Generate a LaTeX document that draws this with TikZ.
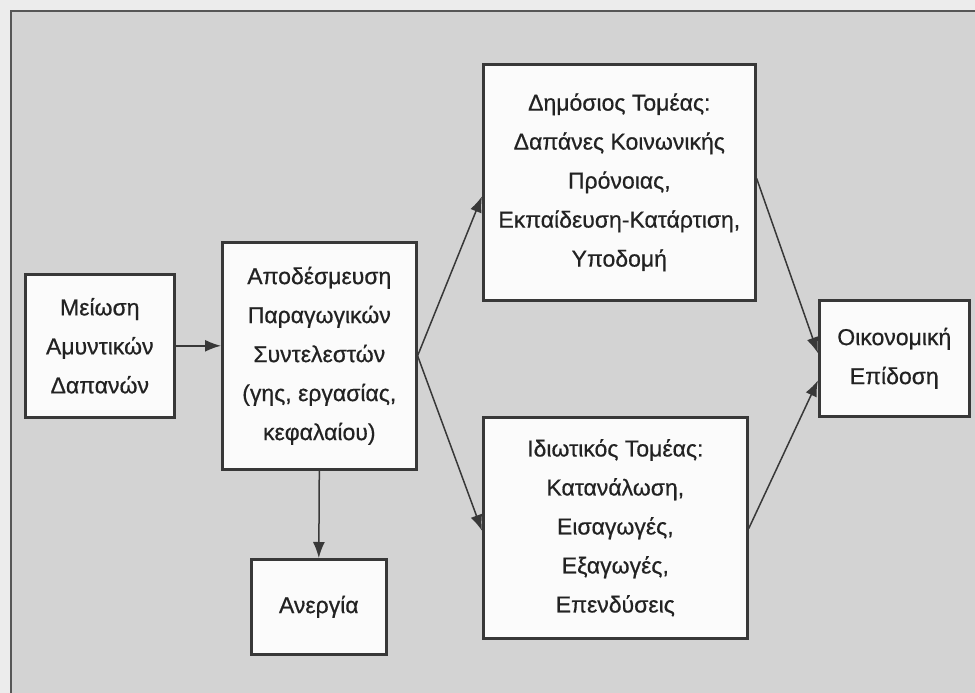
\documentclass[tikz,border=0pt]{standalone}
\usepackage{fontspec}
\setmainfont[FakeBold=0.6]{Liberation Sans}
\usetikzlibrary{arrows.meta}
\definecolor{bgout}{HTML}{ECECEC}
\definecolor{bgin}{HTML}{D3D3D3}
\definecolor{boxfill}{HTML}{FBFBFB}
\definecolor{ink}{HTML}{222222}
\definecolor{edge}{HTML}{383838}
\tikzset{
  boxnode/.style={draw=edge, line width=2.6pt, fill=boxfill, anchor=north west,
    align=center, inner sep=0pt, text=ink,
    font=\fontsize{23}{39}\selectfont},
  arr/.style={draw=edge, line width=1.5pt, -{Latex[length=16pt,width=12pt]}},
}
\begin{document}
\begin{tikzpicture}[x=1pt,y=-1pt]
\useasboundingbox (0,0) rectangle (975,693);
\fill[bgout] (0,0) rectangle (975,693);
\fill[bgin] (11,11) rectangle (975,693);
\draw[edge!85, line width=2.6pt] (11,693) -- (11,11) -- (975,11);

\node[boxnode, minimum width=149pt, minimum height=143pt] (m) at (24,273)
  {Μείωση\\Αμυντικών\\Δαπανών};
\node[boxnode, minimum width=194pt, minimum height=227pt] (a) at (221,241)
  {Αποδέσμευση\\Παραγωγικών\\Συντελεστών\\(γης, εργασίας,\\κεφαλαίου)};
\node[boxnode, minimum width=272pt, minimum height=236pt] (d) at (482,63)
  {Δημόσιος Τομέας:\\Δαπάνες Κοινωνικής\\Πρόνοιας,\\Εκπαίδευση-Κατάρτιση,\\Υποδομή};
\node[boxnode, minimum width=264pt, minimum height=221pt] (i) at (482,416)
  {Ιδιωτικός Τομέας:\\Κατανάλωση,\\Εισαγωγές,\\Εξαγωγές,\\Επενδύσεις};
\node[boxnode, minimum width=150pt, minimum height=116pt] (o) at (818,299)
  {Οικονομική\\Επίδοση};
\node[boxnode, minimum width=135pt, minimum height=95pt] (u) at (250,558)
  {Ανεργία};

\draw[arr] (m.east) -- (m.east -| a.west);
\draw[arr] (a.east) -- ([yshift=-14pt]d.west);
\draw[arr] (a.east) -- ([yshift=-3pt]i.west);
\draw[arr] ([yshift=4pt]d.east) -- ([yshift=5pt]o.west);
\draw[arr] ([yshift=-1pt]i.east) -- ([yshift=-22pt]o.west);
\draw[arr] (a.south) -- (u.north);
\end{tikzpicture}
\end{document}
